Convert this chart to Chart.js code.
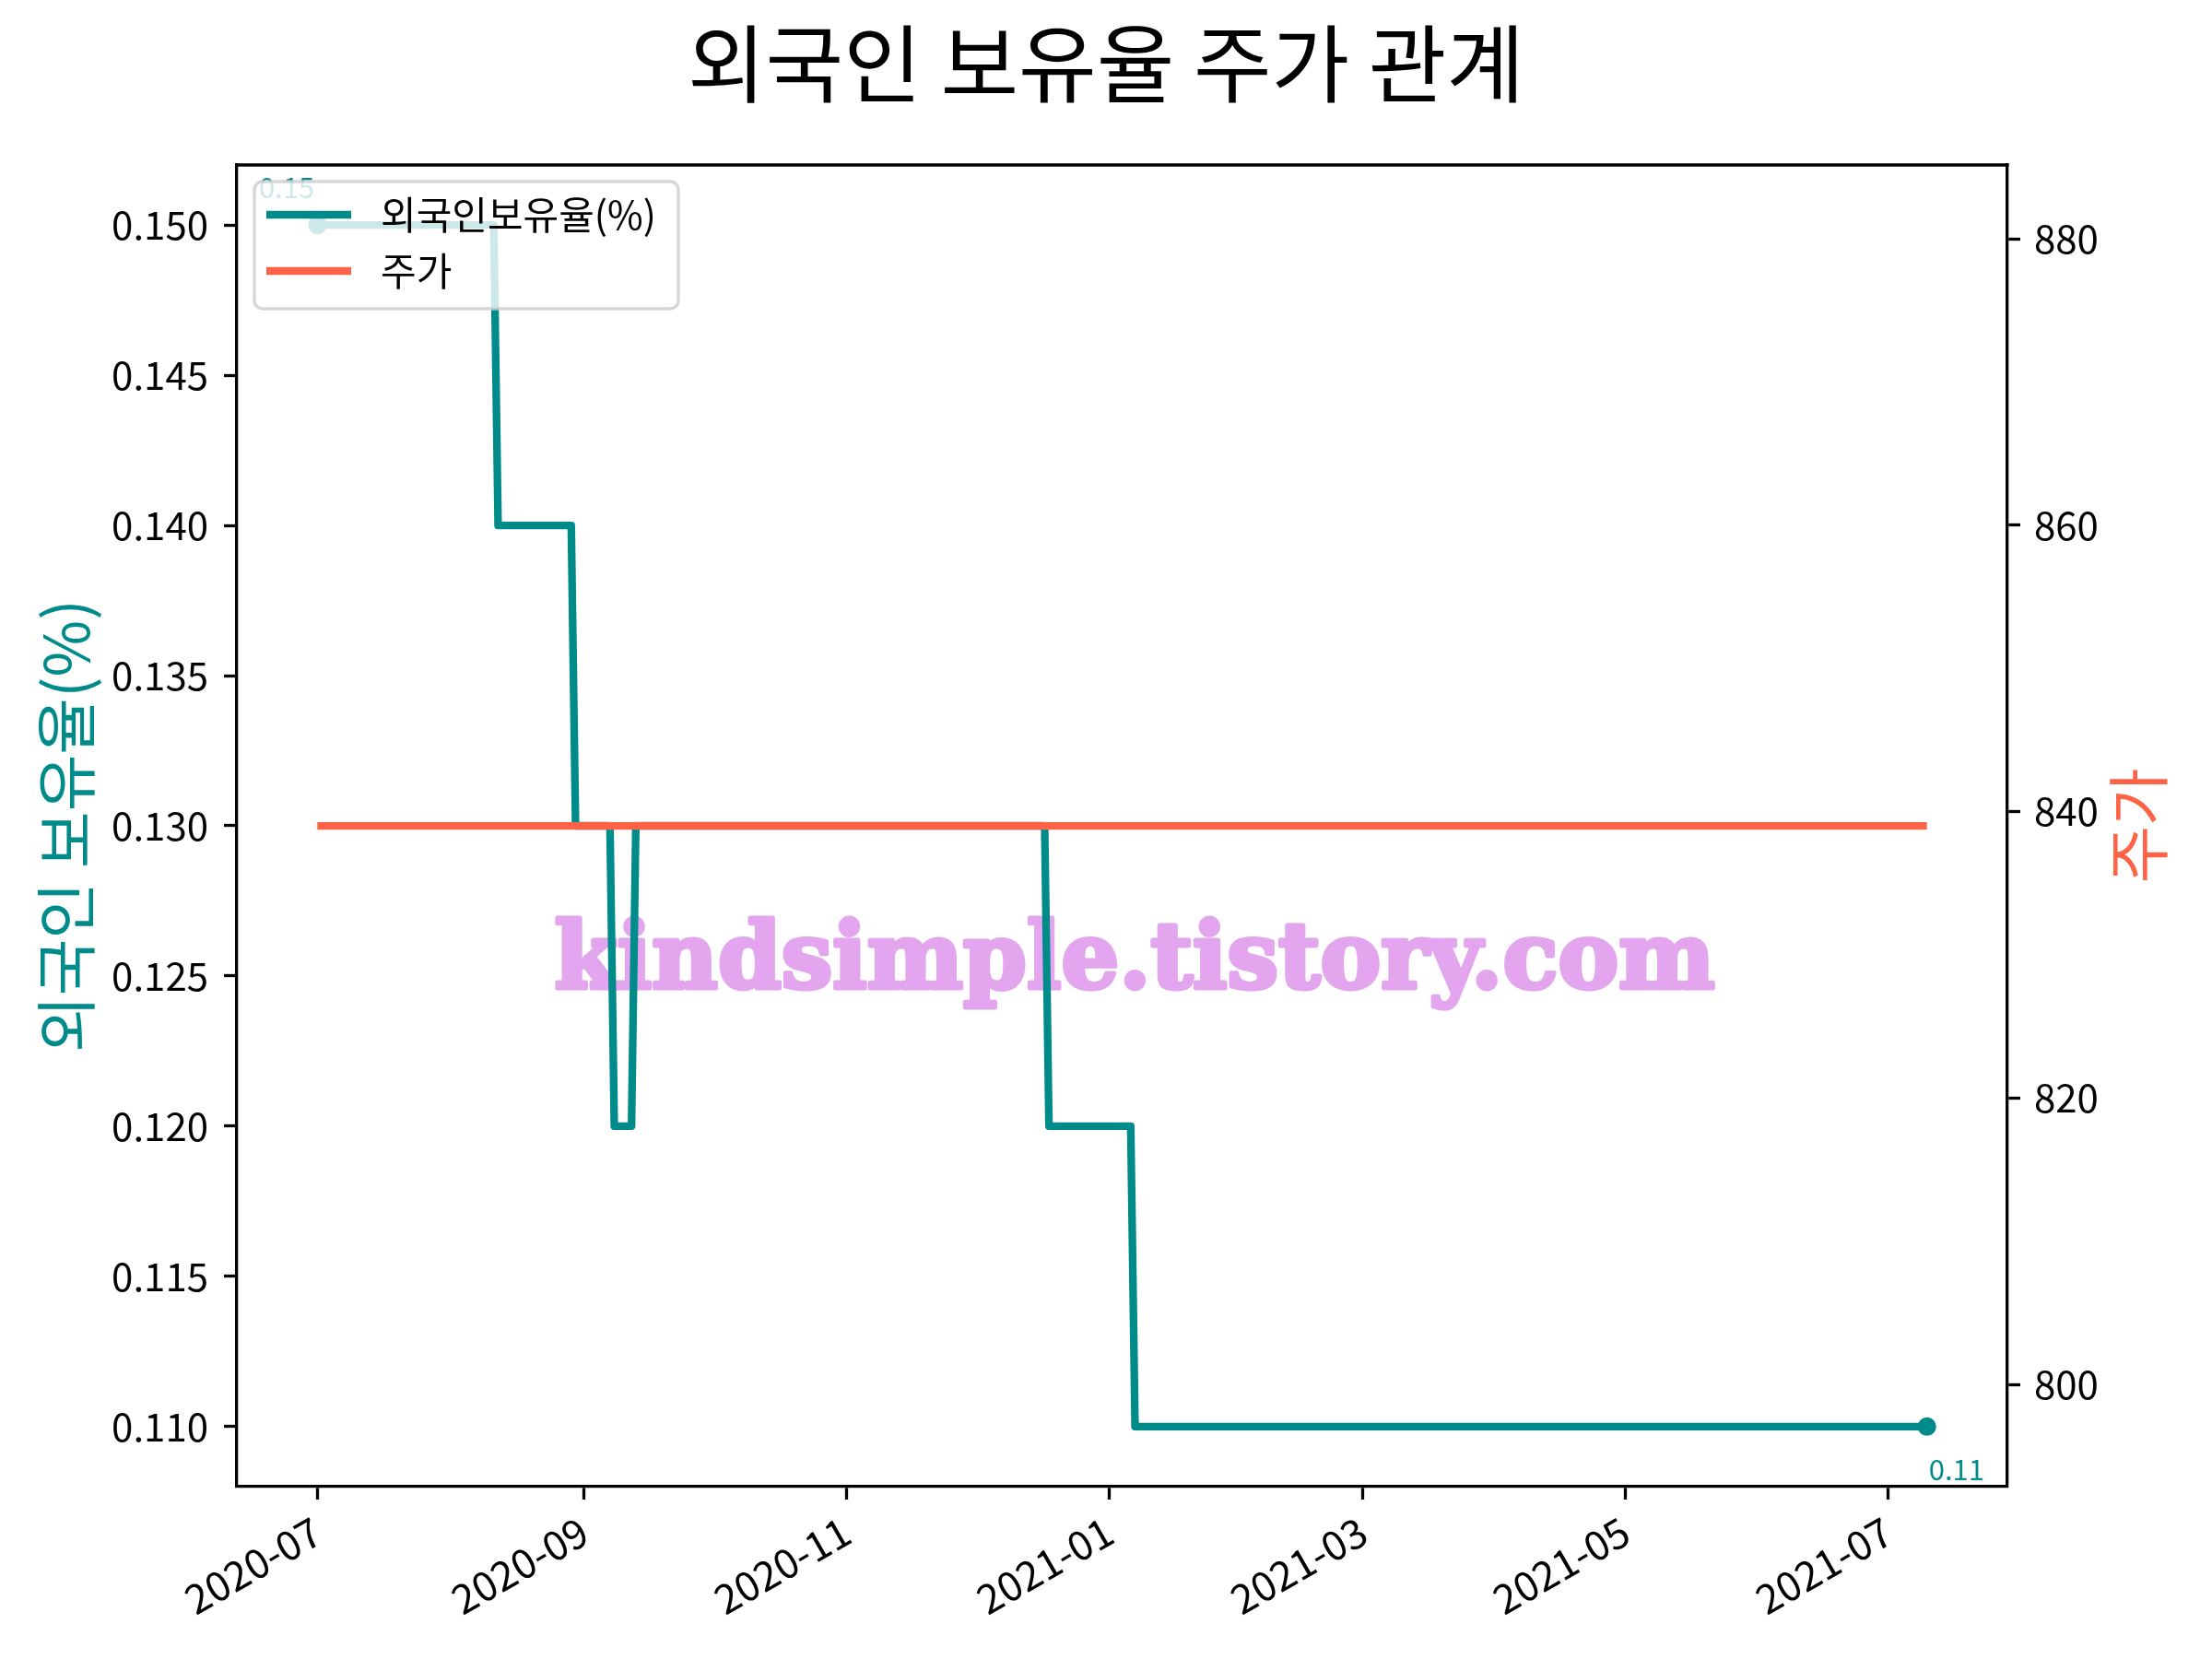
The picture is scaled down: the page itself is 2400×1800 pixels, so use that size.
<!DOCTYPE html>
<html>
<head>
<meta charset="utf-8">
<script src="https://cdn.jsdelivr.net/npm/chart.js@4"></script>
<style>
  body { margin: 0; background: #fff; }
  canvas { display: block; }
</style>
</head>
<body>
<canvas id="chart" width="2400" height="1800"></canvas>
<script>
// foreign ownership steps (points where the value changes)
const foreignDates = [
  '2020-07-01', '2020-08-11', '2020-08-12', '2020-08-29', '2020-08-30',
  '2020-09-07', '2020-09-08', '2020-09-12', '2020-09-13', '2020-12-17',
  '2020-12-18', '2021-01-06', '2021-01-07', '2021-07-10'
];
const foreignValues = [
  0.15, 0.15, 0.14, 0.14, 0.13,
  0.13, 0.12, 0.12, 0.13, 0.13,
  0.12, 0.12, 0.11, 0.11
];
const priceDates = ['2020-07-01', '2021-07-10'];
const priceValues = [839, 839];

const xTickLabels = ['2020-07', '2020-09', '2020-11', '2021-01', '2021-03', '2021-05', '2021-07'];
const leftTicks = [0.110, 0.115, 0.120, 0.125, 0.130, 0.135, 0.140, 0.145, 0.150];
const rightTicks = [800, 820, 840, 860, 880];

const TEAL = '#008b8b';
const TOMATO = '#ff6347';
const FONT = "'Noto Sans CJK KR', 'Noto Sans', sans-serif";

Chart.defaults.font.family = FONT;
Chart.defaults.font.size = 42;
Chart.defaults.color = '#000';

// days since 2020-07-01
const dayOf = s => {
  const [y, m, d] = s.split('-').map(Number);
  return (Date.UTC(y, m - 1, d || 1) - Date.UTC(2020, 6, 1)) / 864e5;
};

const span = dayOf(foreignDates[foreignDates.length - 1]);

const axisGrid = { drawOnChartArea: false, drawTicks: true, tickLength: 14, tickColor: '#000', tickWidth: 3.3 };
const axisBorder = { display: true, color: '#000', width: 3.3 };

const decor = {
  id: 'decor',
  beforeDatasetsDraw(chart) {
    const ctx = chart.ctx;
    ctx.save();
    let size = 100;
    ctx.font = `bold ${size}px 'DejaVu Serif', serif`;
    const w = ctx.measureText('kindsimple.tistory.com').width;
    size = size * 1259 / w;
    ctx.font = `bold ${size}px 'DejaVu Serif', serif`;
    ctx.fillStyle = '#e3a6ee';
    ctx.strokeStyle = '#e3a6ee';
    ctx.lineWidth = 5;
    ctx.lineJoin = 'round';
    ctx.textAlign = 'center';
    ctx.textBaseline = 'alphabetic';
    ctx.strokeText('kindsimple.tistory.com', 1231, 1072);
    ctx.fillText('kindsimple.tistory.com', 1231, 1072);
    ctx.restore();
  },
  afterDatasetsDraw(chart) {
    const ctx = chart.ctx;
    const pts = chart.getDatasetMeta(0).data;
    const first = pts[0], last = pts[pts.length - 1];
    ctx.save();
    ctx.fillStyle = TEAL;
    ctx.font = `31px ${FONT}`;
    ctx.textBaseline = 'alphabetic';
    ctx.textAlign = 'right';
    ctx.fillText(String(foreignValues[0]), first.x - 3, first.y - 29);
    ctx.textAlign = 'left';
    ctx.fillText(String(foreignValues[foreignValues.length - 1]), last.x + 2, last.y + 58);

    // legend box, upper left, semi transparent
    const bx = 276, by = 197, bw = 460, bh = 138, r = 9;
    ctx.beginPath();
    ctx.roundRect(bx, by, bw, bh, r);
    ctx.fillStyle = 'rgba(255,255,255,0.8)';
    ctx.fill();
    ctx.lineWidth = 3.3;
    ctx.strokeStyle = 'rgba(204,204,204,0.8)';
    ctx.stroke();
    const rows = [
      { label: chart.data.datasets[0].label, color: TEAL, y: 233 },
      { label: chart.data.datasets[1].label, color: TOMATO, y: 294 }
    ];
    ctx.font = `42px ${FONT}`;
    ctx.textAlign = 'left';
    ctx.textBaseline = 'middle';
    rows.forEach(row => {
      ctx.beginPath();
      ctx.moveTo(289, row.y);
      ctx.lineTo(381, row.y);
      ctx.lineWidth = 8.3;
      ctx.strokeStyle = row.color;
      ctx.stroke();
      ctx.fillStyle = '#000';
      ctx.fillText(row.label, 413, row.y);
    });
    ctx.restore();
  },
  afterDraw(chart) {
    const ctx = chart.ctx;
    const a = chart.chartArea;
    ctx.save();
    // top spine
    ctx.beginPath();
    ctx.moveTo(a.left - 1.6, a.top);
    ctx.lineTo(a.right + 1.6, a.top);
    ctx.lineWidth = 3.3;
    ctx.strokeStyle = '#000';
    ctx.stroke();
    // title
    ctx.fillStyle = '#000';
    ctx.font = `92px ${FONT}`;
    ctx.textAlign = 'center';
    ctx.textBaseline = 'middle';
    ctx.fillText('외국인 보유율 주가 관계', 1200, 69);
    // right axis title, reading bottom to top
    ctx.translate(2320, (a.top + a.bottom) / 2);
    ctx.rotate(-Math.PI / 2);
    ctx.fillStyle = TOMATO;
    ctx.font = `68px ${FONT}`;
    ctx.fillText('주가', 0, 0);
    ctx.restore();
  }
};

new Chart(document.getElementById('chart'), {
  type: 'line',
  data: {
    datasets: [
      {
        label: '외국인보유율(%)',
        data: foreignDates.map((d, i) => ({ x: dayOf(d), y: foreignValues[i] })),
        borderColor: TEAL,
        backgroundColor: TEAL,
        borderWidth: 8.3,
        borderJoinStyle: 'round',
        pointRadius: c => (c.dataIndex === 0 || c.dataIndex === foreignDates.length - 1) ? 10 : 0,
        pointBorderWidth: 0,
        pointHoverRadius: 0,
        yAxisID: 'y',
        order: 1,
      },
      {
        label: '주가',
        data: priceDates.map((d, i) => ({ x: dayOf(d), y: priceValues[i] })),
        borderColor: TOMATO,
        backgroundColor: TOMATO,
        borderWidth: 8.3,
        pointRadius: 0,
        pointHoverRadius: 0,
        yAxisID: 'y1',
        order: 0,
      },
    ],
  },
  options: {
    responsive: false,
    devicePixelRatio: 1,
    animation: false,
    events: [],
    layout: { padding: { top: 179, left: 0, right: 0, bottom: 0 } },
    plugins: { legend: { display: false }, tooltip: { enabled: false } },
    scales: {
      x: {
        type: 'linear',
        min: -0.05 * span,
        max: 1.05 * span,
        afterFit: s => { s.height = 187; },
        afterBuildTicks: s => { s.ticks = xTickLabels.map(l => ({ value: dayOf(l) })); },
        ticks: {
          callback: (v, i) => xTickLabels[i],
          minRotation: 30,
          maxRotation: 30,
          autoSkip: false,
          padding: 8,
          font: { size: 44 },
        },
        grid: axisGrid,
        border: axisBorder,
      },
      y: {
        position: 'left',
        min: 0.108,
        max: 0.152,
        afterFit: s => { s.width = 257; },
        afterBuildTicks: s => { s.ticks = leftTicks.map(v => ({ value: v })); },
        ticks: { callback: v => v.toFixed(3), padding: 17 },
        grid: axisGrid,
        border: axisBorder,
        title: {
          display: true,
          text: '외국인 보유율(%)',
          color: TEAL,
          font: { size: 67 },
          padding: { top: 31, bottom: 0 },
        },
      },
      y1: {
        position: 'right',
        min: 792.86,
        max: 885.15,
        afterFit: s => { s.width = 222; },
        afterBuildTicks: s => { s.ticks = rightTicks.map(v => ({ value: v })); },
        ticks: { callback: v => String(v), padding: 15 },
        grid: axisGrid,
        border: axisBorder,
      },
    },
  },
  plugins: [decor],
});
</script>
</body>
</html>
